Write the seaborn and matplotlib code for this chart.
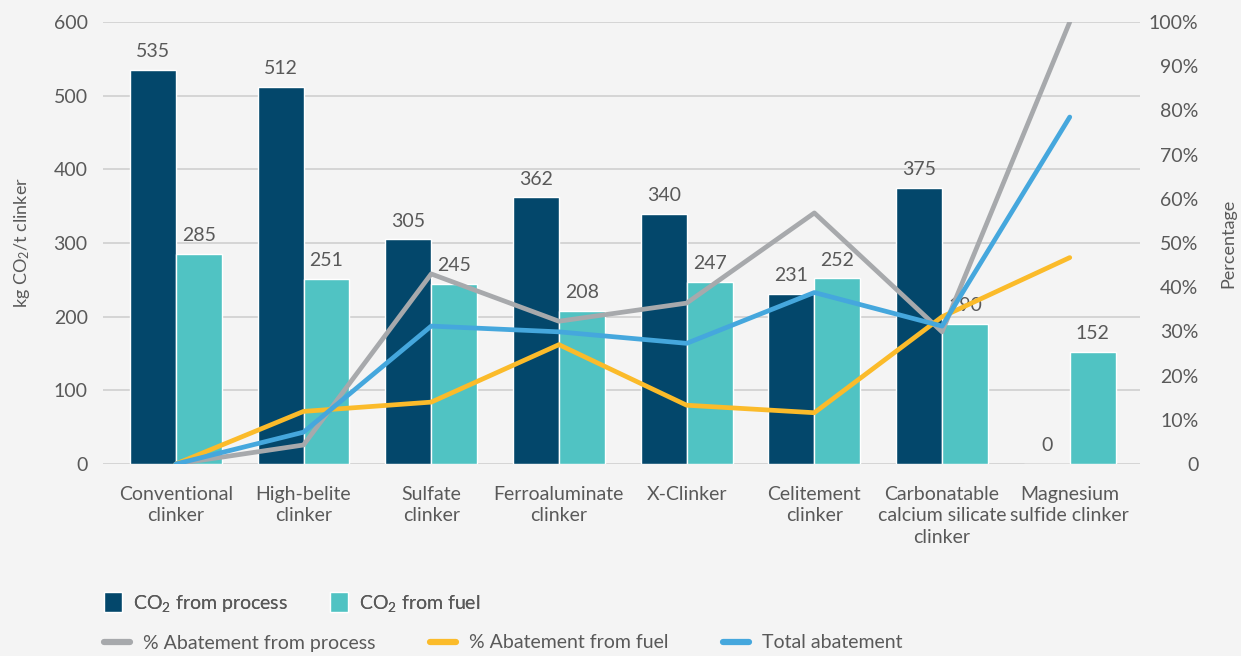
import numpy as np
import pandas as pd
import matplotlib
matplotlib.use("Agg")
import matplotlib.pyplot as plt
from matplotlib.patches import Patch
from matplotlib.lines import Line2D
from matplotlib.ticker import FuncFormatter, MultipleLocator
import seaborn as sns

# ---- data -------------------------------------------------------------
categories = [
    "Conventional\nclinker",
    "High-belite\nclinker",
    "Sulfate\nclinker",
    "Ferroaluminate\nclinker",
    "X-Clinker",
    "Celitement\nclinker",
    "Carbonatable\ncalcium silicate\nclinker",
    "Magnesium\nsulfide clinker",
]
co2_process = [535, 512, 305, 362, 340, 231, 375, 0]
co2_fuel = [285, 251, 245, 208, 247, 252, 190, 152]

# abatement relative to conventional clinker, in percent
abatement_process = [0, 4.3, 43.0, 32.3, 36.4, 56.8, 29.9, 100.0]
abatement_fuel = [0, 11.9, 14.0, 27.0, 13.3, 11.6, 33.3, 46.7]
abatement_total = [0, 7.2, 31.2, 29.9, 27.3, 38.8, 31.2, 78.5]

bar_series = ["CO$_2$ from process", "CO$_2$ from fuel"]
line_series = ["% Abatement from process", "% Abatement from fuel", "Total abatement"]

# ---- style ------------------------------------------------------------
BG = "#f4f4f4"
TXT = "#595959"
DARK = "#03476b"
TEAL = "#50c3c3"
GREY = "#a7a9ac"
YELLOW = "#fbbb2a"
BLUE = "#45a7dd"
FS = 14

sns.set_style("white")
plt.rcParams["font.family"] = ["Lato", "DejaVu Sans"]
plt.rcParams["mathtext.fontset"] = "custom"
plt.rcParams["mathtext.rm"] = "Lato"
plt.rcParams["mathtext.it"] = "Lato:italic"
plt.rcParams["mathtext.bf"] = "Lato:bold"
plt.rcParams["text.color"] = TXT

bars = pd.DataFrame({
    "category": categories * 2,
    "series": [bar_series[0]] * len(categories) + [bar_series[1]] * len(categories),
    "value": co2_process + co2_fuel,
})
lines = pd.DataFrame({
    "pos": list(np.arange(len(categories))) * 3,
    "series": sum([[s] * len(categories) for s in line_series], []),
    "pct": abatement_process + abatement_fuel + abatement_total,
})

fig = plt.figure(figsize=(12.41, 6.56), dpi=100, facecolor=BG)
ax = fig.add_axes([103 / 1241, 1 - 464 / 656, 1037 / 1241, 442 / 656])
ax.set_facecolor(BG)

sns.barplot(data=bars, x="category", y="value", hue="series", order=categories,
            hue_order=bar_series, palette=[DARK, TEAL], saturation=1,
            width=0.72, ax=ax, legend=False)
for cont in ax.containers:
    ax.bar_label(cont, fmt="%d", padding=7, fontsize=FS, color=TXT)

ax.set_ylim(0, 600)
ax.set_xlim(-0.57, len(categories) - 0.45)
ax.yaxis.set_major_locator(MultipleLocator(100))
ax.grid(axis="y", color="#d2d2d2", linewidth=1.3)
ax.set_axisbelow(True)
for s in ax.spines.values():
    s.set_visible(False)
ax.tick_params(axis="both", length=0, labelsize=FS, labelcolor=TXT)
ax.tick_params(axis="x", pad=16)
ax.tick_params(axis="y", pad=11)
for lab in ax.get_xticklabels():
    lab.set_linespacing(1.3)
ax.set_xlabel("")
ax.set_ylabel("kg CO$_2$/t clinker", fontsize=13, color=TXT)
ax.yaxis.set_label_coords(-0.0785, 0.5)
ax.yaxis.label.set_verticalalignment("center")

# ---- abatement lines on the secondary axis ---------------------------
ax2 = ax.twinx()
sns.lineplot(data=lines, x="pos", y="pct", hue="series", hue_order=line_series,
             palette=[GREY, YELLOW, BLUE], linewidth=3.4, ax=ax2, legend=False,
             sort=False)
for ln in ax2.get_lines():
    ln.set_solid_capstyle("round")
ax2.set_ylim(0, 100)
ax2.yaxis.set_major_locator(MultipleLocator(10))
ax2.yaxis.set_major_formatter(FuncFormatter(lambda v, p: "0" if v == 0 else f"{v:.0f}%"))
for s in ax2.spines.values():
    s.set_visible(False)
ax2.tick_params(axis="y", length=0, labelsize=FS, labelcolor=TXT, pad=42)
for lab in ax2.get_yticklabels():
    lab.set_horizontalalignment("right")
ax2.set_ylabel("Percentage", fontsize=13, color=TXT, rotation=90,
               va="center", ha="center")
ax2.yaxis.set_label_coords(1.085, 0.5)
ax2.set_xlabel("")

# ---- legends ----------------------------------------------------------
bar_handles = [Patch(facecolor=c, label=l) for c, l in zip([DARK, TEAL], bar_series)]
line_handles = [Line2D([], [], color=c, lw=4.5, solid_capstyle="round", label=l)
                for c, l in zip([GREY, YELLOW, BLUE], line_series)]
leg1 = fig.legend(handles=bar_handles, loc="center left", bbox_to_anchor=(104 / 1241, 1 - 603 / 656),
                  ncol=2, frameon=False, fontsize=FS, labelcolor=TXT, handlelength=0.95,
                  handleheight=1.2, handletextpad=0.55, columnspacing=2.15,
                  borderpad=0, borderaxespad=0)
leg2 = fig.legend(handles=line_handles, loc="center left", bbox_to_anchor=(104 / 1241, 1 - 643 / 656),
                  ncol=3, frameon=False, fontsize=FS, labelcolor=TXT, handlelength=1.35,
                  handletextpad=0.65, columnspacing=2.8, borderpad=0, borderaxespad=0)
fig.add_artist(leg1)

fig.savefig("out.png", dpi=100, facecolor=BG)
